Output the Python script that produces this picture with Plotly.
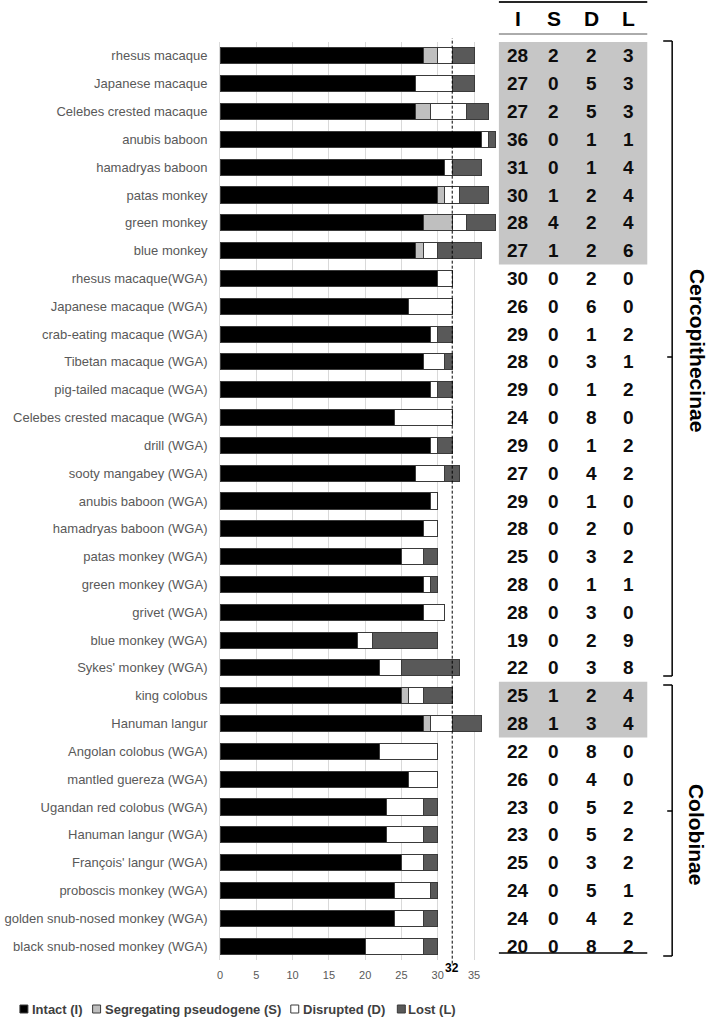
import plotly.graph_objects as go

species = [
    "rhesus macaque", "Japanese macaque", "Celebes crested macaque", "anubis baboon",
    "hamadryas baboon", "patas monkey", "green monkey", "blue monkey",
    "rhesus macaque(WGA)", "Japanese macaque (WGA)", "crab-eating macaque (WGA)",
    "Tibetan macaque (WGA)", "pig-tailed macaque (WGA)", "Celebes crested macaque (WGA)",
    "drill (WGA)", "sooty mangabey (WGA)", "anubis baboon (WGA)", "hamadryas baboon (WGA)",
    "patas monkey (WGA)", "green monkey (WGA)", "grivet (WGA)", "blue monkey (WGA)",
    "Sykes' monkey (WGA)", "king colobus", "Hanuman langur", "Angolan colobus (WGA)",
    "mantled guereza (WGA)", "Ugandan red colobus (WGA)", "Hanuman langur (WGA)",
    "François' langur (WGA)", "proboscis monkey (WGA)", "golden snub-nosed monkey (WGA)",
    "black snub-nosed monkey (WGA)",
]
intact = [28, 27, 27, 36, 31, 30, 28, 27, 30, 26, 29, 28, 29, 24, 29, 27, 29, 28, 25, 28, 28, 19, 22,
          25, 28, 22, 26, 23, 23, 25, 24, 24, 20]
segregating = [2, 0, 2, 0, 0, 1, 4, 1, 0, 0, 0, 0, 0, 0, 0, 0, 0, 0, 0, 0, 0, 0, 0,
               1, 1, 0, 0, 0, 0, 0, 0, 0, 0]
disrupted = [2, 5, 5, 1, 1, 2, 2, 2, 2, 6, 1, 3, 1, 8, 1, 4, 1, 2, 3, 1, 3, 2, 3,
             2, 3, 8, 4, 5, 5, 3, 5, 4, 8]
lost = [3, 3, 3, 1, 4, 4, 4, 6, 0, 0, 2, 1, 2, 0, 2, 2, 0, 0, 2, 1, 0, 9, 8,
        4, 4, 0, 0, 2, 2, 2, 1, 2, 2]
series_names = ["Intact (I)", "Segregating pseudogene (S)", "Disrupted (D)", "Lost (L)"]
col_headers = ["I", "S", "D", "L"]
x_ticks = [0, 5, 10, 15, 20, 25, 30, 35]
ref_line = 32
shaded_groups = [(0, 7), (23, 24)]
clades = ["Cercopithecinae", "Colobinae"]

colors = ["#000000", "#bfbfbf", "#ffffff", "#595959"]

W, H = 712, 1019
T, B = 42, 59
PH = H - T - B


def px(p):
    return p / W


def py(p):
    return (H - B - p) / PH


fig = go.Figure()
for name, vals, c in zip(series_names, [intact, segregating, disrupted, lost], colors):
    fig.add_trace(go.Bar(
        y=species, x=vals, name=name, orientation="h",
        marker=dict(color=c, line=dict(color="#3a3a3a", width=1)),
        showlegend=False,
    ))

shapes = []
annotations = []

# reference dashed line
shapes.append(dict(type="line", xref="x", yref="paper", x0=ref_line, x1=ref_line,
                   y0=-0.004, y1=1.004, line=dict(color="#000000", width=1, dash="3px,2px"),
                   layer="above"))
annotations.append(dict(xref="x", yref="paper", x=ref_line, y=py(968), text="<b>32</b>",
                        xanchor="center", yanchor="middle", showarrow=False,
                        font=dict(family="Liberation Sans, Arial", size=12, color="#000000")))

# table
tx0, tx1 = px(498), px(647)
col_x = [517, 553, 591, 628]
for (a, b) in shaded_groups:
    shapes.append(dict(type="rect", xref="paper", yref="y", x0=tx0, x1=tx1,
                       y0=a - 0.5, y1=b + 0.5, fillcolor="#c6c6c6", line=dict(width=0),
                       layer="below"))
shapes.append(dict(type="line", xref="paper", yref="paper", x0=tx0, x1=tx1, y0=py(2), y1=py(2),
                   line=dict(color="#262626", width=2)))
shapes.append(dict(type="line", xref="paper", yref="paper", x0=tx0, x1=tx1, y0=py(34), y1=py(34),
                   line=dict(color="#595959", width=1)))
shapes.append(dict(type="line", xref="paper", yref="paper", x0=tx0, x1=tx1, y0=py(953), y1=py(953),
                   line=dict(color="#000000", width=1.5)))
for h, cx in zip(col_headers, col_x):
    annotations.append(dict(xref="paper", yref="paper", x=px(cx), y=py(19), text=f"<b>{h}</b>",
                            xanchor="center", yanchor="middle", showarrow=False,
                            font=dict(family="Liberation Sans, Arial", size=21, color="#000000")))
for vals, cx in zip([intact, segregating, disrupted, lost], col_x):
    for sp, v in zip(species, vals):
        annotations.append(dict(xref="paper", yref="y", x=px(cx), y=sp, text=f"<b>{v}</b>",
                                xanchor="center", yanchor="middle", showarrow=False,
                                font=dict(family="Liberation Sans, Arial", size=19, color="#0d0d0d")))

# brackets
bx = 672
clade_px = {"Cercopithecinae": (41, 676, 357, 350), "Colobinae": (685, 956, 811, 835)}
for name in clades:
    top, bot, notch, lab = clade_px[name]
    line = dict(color="#000000", width=1.5)
    shapes.append(dict(type="line", xref="paper", yref="paper", x0=px(bx), x1=px(bx), y0=py(top), y1=py(bot), line=line))
    shapes.append(dict(type="line", xref="paper", yref="paper", x0=px(663), x1=px(bx), y0=py(top), y1=py(top), line=line))
    shapes.append(dict(type="line", xref="paper", yref="paper", x0=px(663), x1=px(bx), y0=py(bot), y1=py(bot), line=line))
    shapes.append(dict(type="line", xref="paper", yref="paper", x0=px(bx - 5), x1=px(bx), y0=py(notch), y1=py(notch), line=line))
    annotations.append(dict(xref="paper", yref="paper", x=px(697), y=py(lab), text=f"<b>{name}</b>",
                            xanchor="center", yanchor="middle", textangle=90, showarrow=False,
                            font=dict(family="Liberation Sans, Arial", size=21, color="#000000")))

# legend
leg_sq = [17, 90, 289, 396]
leg_tx = [27, 100, 299, 405]
for name, c, sx, tx in zip(series_names, colors, leg_sq, leg_tx):
    shapes.append(dict(type="rect", xref="paper", yref="paper", x0=px(sx), x1=px(sx + 8),
                       y0=py(1013), y1=py(1005), fillcolor=c, line=dict(color="#3a3a3a", width=1)))
    annotations.append(dict(xref="paper", yref="paper", x=px(tx), y=py(1009.5), xanchor="left",
                            yanchor="middle", text=f"<b>{name}</b>", showarrow=False,
                            font=dict(family="Liberation Sans, Arial", size=13, color="#404040")))

fig.update_layout(
    width=W, height=H,
    margin=dict(l=0, r=0, t=T, b=B),
    barmode="stack", bargap=0.42,
    plot_bgcolor="#ffffff", paper_bgcolor="#ffffff",
    shapes=shapes, annotations=annotations,
    xaxis=dict(domain=[px(218), px(499)], range=[0, 38.57], tickvals=x_ticks,
               showgrid=True, gridcolor="#d9d9d9", gridwidth=1, zeroline=False, showline=False,
               ticks="", ticklabelstandoff=7,
               tickfont=dict(family="Liberation Sans, Arial", size=11, color="#595959")),
    yaxis=dict(autorange="reversed", showline=True, linecolor="#d9d9d9", linewidth=1,
               showgrid=False, ticks="", ticklabelstandoff=9,
               tickfont=dict(family="Liberation Sans, Arial", size=13, color="#595959")),
    font=dict(family="Liberation Sans, Arial"),
)

fig.write_html("out.html", config={"displayModeBar": False},
               post_script="document.body.style.margin='0';document.body.style.padding='0';")
